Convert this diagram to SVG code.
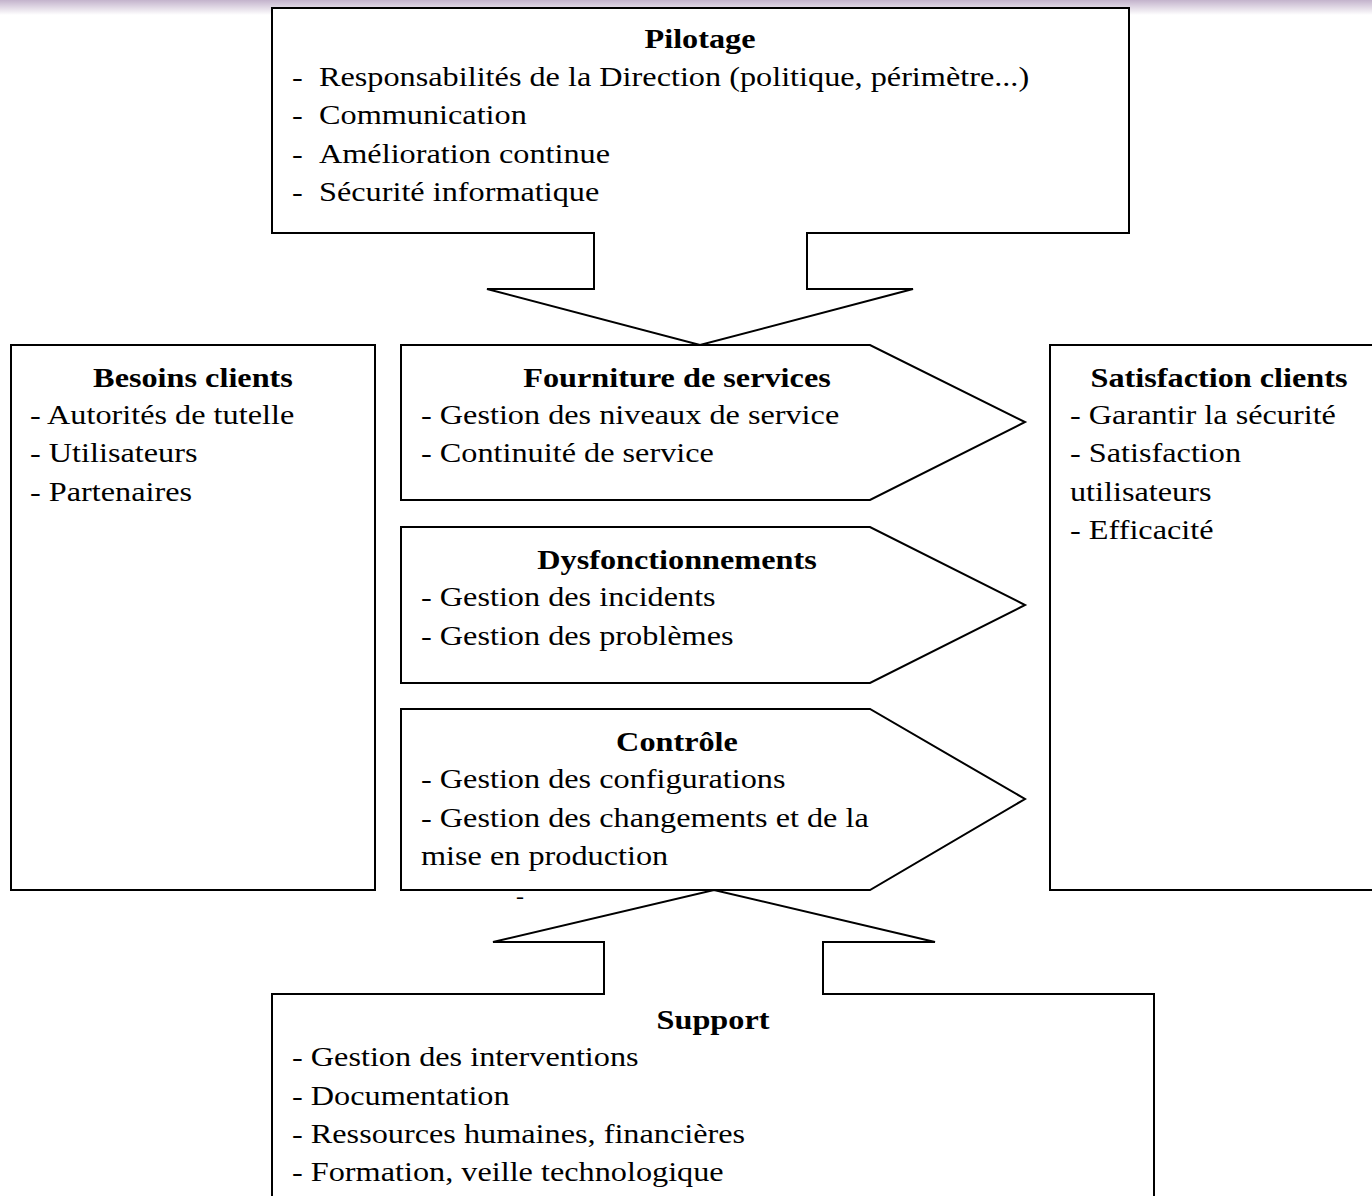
<svg xmlns="http://www.w3.org/2000/svg" width="1372" height="1196" viewBox="0 0 1372 1196">
<defs>
<linearGradient id="topfade" x1="0" y1="0" x2="0" y2="1">
<stop offset="0" stop-color="#c3b3cc"/>
<stop offset="1" stop-color="#ffffff"/>
</linearGradient>
<style>
.shape{fill:#ffffff;stroke:#000000;stroke-width:2;stroke-linejoin:miter}
.t{font-family:"Liberation Serif","Times New Roman",serif;font-size:27px;fill:#000000}
.b{font-weight:bold;text-anchor:middle}
</style>
</defs>
<rect x="0" y="0" width="1372" height="1196" fill="#ffffff"/>
<rect x="0" y="0" width="1372" height="15" fill="url(#topfade)"/>

<g id="connectors">
<path class="shape" d="M272,8 L1129,8 L1129,233 L807,233 L807,289 L913,289 L700,345 L487,289 L594,289 L594,233 L272,233 Z"/>
<path class="shape" d="M272,1200 L272,994 L604,994 L604,942 L493,942 L714,890 L935,942 L823,942 L823,994 L1154,994 L1154,1200"/>
</g>

<g id="pilotage">
<text class="t b" transform="matrix(1.195 0 0 1 700 48)">Pilotage</text>
<text class="t" transform="matrix(1.195 0 0 1 292 86)">-</text><text class="t" transform="matrix(1.195 0 0 1 319 86)">Responsabilités de la Direction (politique, périmètre...)</text>
<text class="t" transform="matrix(1.195 0 0 1 292 124)">-</text><text class="t" transform="matrix(1.195 0 0 1 319 124)">Communication</text>
<text class="t" transform="matrix(1.195 0 0 1 292 163)">-</text><text class="t" transform="matrix(1.195 0 0 1 319 163)">Amélioration continue</text>
<text class="t" transform="matrix(1.195 0 0 1 292 201)">-</text><text class="t" transform="matrix(1.195 0 0 1 319 201)">Sécurité informatique</text>
</g>

<g id="besoins">
<rect class="shape" x="11" y="345" width="364" height="545"/>
<text class="t b" transform="matrix(1.195 0 0 1 193 387)">Besoins clients</text>
<text class="t" transform="matrix(1.195 0 0 1 30 424)">- Autorités de tutelle</text>
<text class="t" transform="matrix(1.195 0 0 1 30 462)">- Utilisateurs</text>
<text class="t" transform="matrix(1.195 0 0 1 30 501)">- Partenaires</text>
</g>

<g id="fourniture">
<path class="shape" d="M401,345 L870,345 L1025,422 L870,500 L401,500 Z"/>
<text class="t b" transform="matrix(1.195 0 0 1 677 387)">Fourniture de services</text>
<text class="t" transform="matrix(1.195 0 0 1 421 424)">- Gestion des niveaux de service</text>
<text class="t" transform="matrix(1.195 0 0 1 421 462)">- Continuité de service</text>
</g>

<g id="dysfonctionnements">
<path class="shape" d="M401,527 L870,527 L1025,605 L870,683 L401,683 Z"/>
<text class="t b" transform="matrix(1.195 0 0 1 677 569)">Dysfonctionnements</text>
<text class="t" transform="matrix(1.195 0 0 1 421 606)">- Gestion des incidents</text>
<text class="t" transform="matrix(1.195 0 0 1 421 645)">- Gestion des problèmes</text>
</g>

<g id="controle">
<path class="shape" d="M401,709 L870,709 L1025,799 L870,890 L401,890 Z"/>
<text class="t b" transform="matrix(1.195 0 0 1 677 751)">Contrôle</text>
<text class="t" transform="matrix(1.195 0 0 1 421 788)">- Gestion des configurations</text>
<text class="t" transform="matrix(1.195 0 0 1 421 827)">- Gestion des changements et de la</text>
<text class="t" transform="matrix(1.195 0 0 1 421 865)">mise en production</text>
<text class="t" transform="matrix(1.195 0 0 1 516 903)" style="font-size:20px">-</text>
</g>

<g id="satisfaction">
<path class="shape" d="M1380,345 L1050,345 L1050,890 L1380,890"/>
<text class="t b" transform="matrix(1.195 0 0 1 1219 387)">Satisfaction clients</text>
<text class="t" transform="matrix(1.195 0 0 1 1070 424)">- Garantir la sécurité</text>
<text class="t" transform="matrix(1.195 0 0 1 1070 462)">- Satisfaction</text>
<text class="t" transform="matrix(1.195 0 0 1 1070 501)">utilisateurs</text>
<text class="t" transform="matrix(1.195 0 0 1 1070 539)">- Efficacité</text>
</g>

<g id="support">
<text class="t b" transform="matrix(1.195 0 0 1 713 1029)">Support</text>
<text class="t" transform="matrix(1.195 0 0 1 292 1066)">- Gestion des interventions</text>
<text class="t" transform="matrix(1.195 0 0 1 292 1105)">- Documentation</text>
<text class="t" transform="matrix(1.195 0 0 1 292 1143)">- Ressources humaines, financières</text>
<text class="t" transform="matrix(1.195 0 0 1 292 1181)">- Formation, veille technologique</text>
</g>
</svg>
